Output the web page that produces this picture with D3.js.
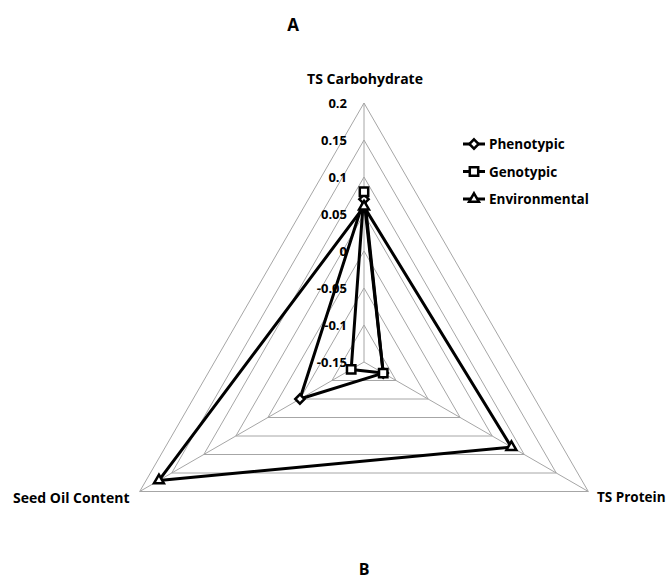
<!DOCTYPE html>
<html>
<head>
<meta charset="utf-8">
<script src="https://cdn.jsdelivr.net/npm/d3@7"></script>
<style>
  body { margin: 0; background: #fff; }
  text { font-family: "Open Sans", Lato, sans-serif; font-weight: bold; }
</style>
</head>
<body>
<script>
// data
const axes = ['TS Carbohydrate', 'TS Protein', 'Seed Oil Content'];
const seriesNames = ['Phenotypic', 'Genotypic', 'Environmental'];
const phenotypic = [0.07, -0.12, -0.05];
const genotypic = [0.08, -0.12, -0.13];
const environmental = [0.06, 0.08, 0.17];
const ticks = [-0.15, -0.1, -0.05, 0, 0.05, 0.1, 0.15, 0.2];
const markers = ['diamond', 'square', 'triangle'];

const w = 672, h = 580;
const cx = 364, cy = 362, R = 259;

const svg = d3.select('body').append('svg')
  .attr('width', w).attr('height', h);

const rScale = d3.scaleLinear().domain([-0.15, 0.2]).range([0, R]);
const angle = i => -Math.PI / 2 + i * 2 * Math.PI / axes.length;
const pt = (v, i) => [cx + rScale(v) * Math.cos(angle(i)), cy + rScale(v) * Math.sin(angle(i))];

// grid rings
ticks.slice(1).forEach(t => {
  svg.append('polygon')
    .attr('points', axes.map((a, i) => pt(t, i).join(',')).join(' '))
    .attr('fill', 'none').attr('stroke', '#a6a6a6').attr('stroke-width', 1);
});
// spokes
axes.forEach((a, i) => {
  const p = pt(0.2, i);
  svg.append('line').attr('x1', cx).attr('y1', cy).attr('x2', p[0]).attr('y2', p[1])
    .attr('stroke', '#a6a6a6').attr('stroke-width', 1);
});

// tick labels
svg.selectAll('.tick-label').data(ticks).enter().append('text')
  .attr('class', 'tick-label')
  .attr('x', cx - 17)
  .attr('y', d => cy - rScale(d) + 5)
  .attr('text-anchor', 'end')
  .attr('font-size', 13)
  .text(d => d);

// axis labels
svg.append('text').attr('x', 365).attr('y', 84).attr('text-anchor', 'middle')
  .attr('font-size', 14).text(axes[0]);
svg.append('text').attr('x', 597).attr('y', 502).attr('text-anchor', 'start')
  .attr('font-size', 13.5).text(axes[1]);
svg.append('text').attr('x', 13).attr('y', 503).attr('text-anchor', 'start')
  .attr('font-size', 14).text(axes[2]);

// series
const allSeries = [phenotypic, genotypic, environmental];
const symbolFor = m => m === 'diamond' ? d3.symbolDiamond2 : (m === 'square' ? d3.symbolSquare2 : d3.symbolTriangle2);
const symSize = m => m === 'square' ? 90 : (m === 'diamond' ? 55 : 70);

allSeries.forEach((s, k) => {
  const pts = s.map((v, i) => pt(v, i));
  svg.append('polygon')
    .attr('points', pts.map(p => p.join(',')).join(' '))
    .attr('fill', 'none').attr('stroke', '#000').attr('stroke-width', 3)
    .attr('stroke-linejoin', 'round');
});
allSeries.forEach((s, k) => {
  s.forEach((v, i) => {
    const p = pt(v, i);
    svg.append('path')
      .attr('d', d3.symbol().type(symbolFor(markers[k])).size(symSize(markers[k]))())
      .attr('transform', 'translate(' + p[0] + ',' + p[1] + ')')
      .attr('fill', '#fff').attr('stroke', '#000').attr('stroke-width', 2.5);
  });
});

// legend
seriesNames.forEach((n, k) => {
  const y = 144 + k * 27.5;
  const g = svg.append('g').attr('transform', 'translate(463,' + y + ')');
  g.append('line').attr('x1', 0).attr('x2', 22).attr('y1', 0).attr('y2', 0)
    .attr('stroke', '#000').attr('stroke-width', 3);
  g.append('path')
    .attr('d', d3.symbol().type(symbolFor(markers[k])).size(symSize(markers[k]))())
    .attr('transform', 'translate(11,0)')
    .attr('fill', '#fff').attr('stroke', '#000').attr('stroke-width', 2.5);
  g.append('text').attr('x', 26).attr('y', 5).attr('font-size', 13.5).text(n);
});

// panel letters
svg.append('text').attr('x', 293).attr('y', 31).attr('text-anchor', 'middle')
  .attr('font-size', 17).text('A');
svg.append('text').attr('x', 364).attr('y', 575).attr('text-anchor', 'middle')
  .attr('font-size', 16).text('B');
</script>
</body>
</html>
